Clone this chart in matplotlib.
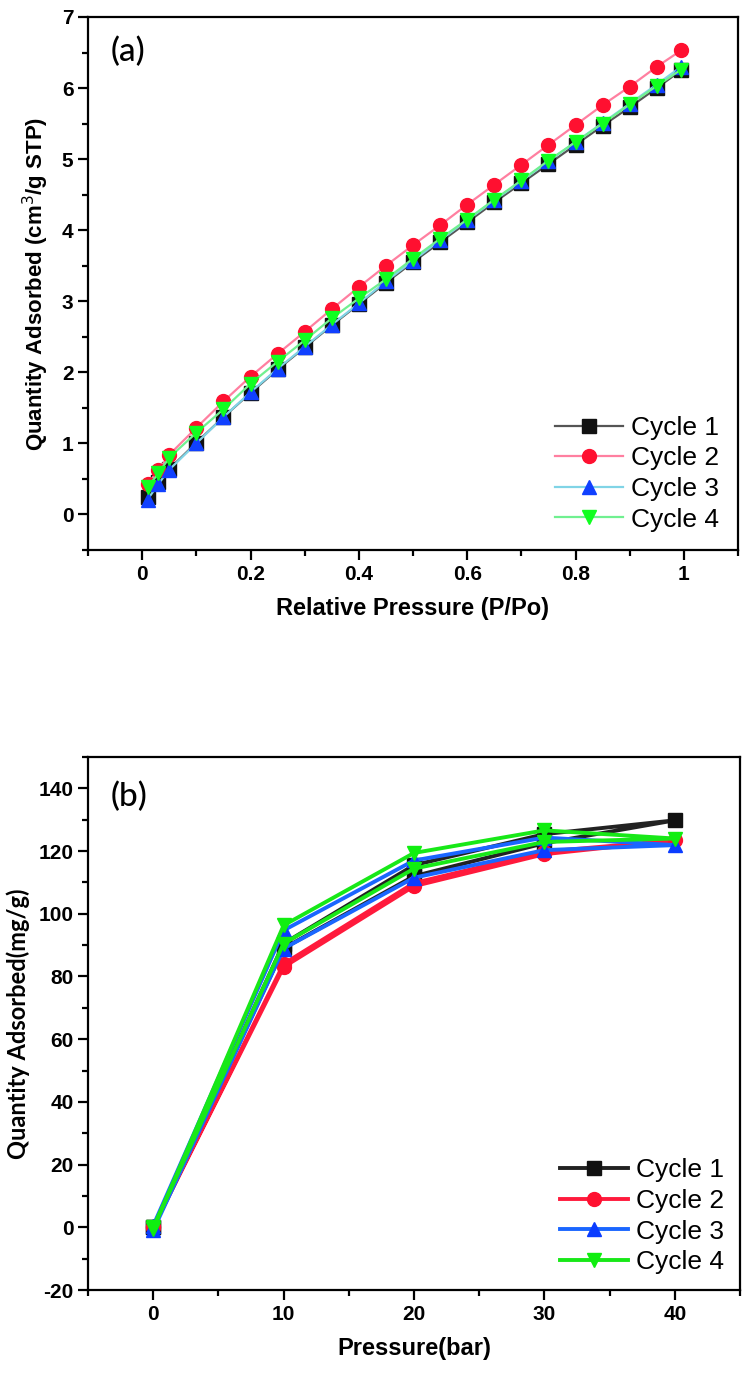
import numpy as np
import matplotlib
matplotlib.use("Agg")
import matplotlib.pyplot as plt
from matplotlib.ticker import MultipleLocator

plt.rcParams['font.family'] = ['Liberation Sans', 'DejaVu Sans']
plt.rcParams['axes.unicode_minus'] = False

# (a) relative pressure isotherms
rel_p = [0.01, 0.03, 0.05, 0.1, 0.15, 0.2, 0.25, 0.3, 0.35, 0.4, 0.45,
         0.5, 0.55, 0.6, 0.65, 0.7, 0.75, 0.8, 0.85, 0.9, 0.95, 0.995]
a_cycle1 = [0.24, 0.45, 0.64, 1.01, 1.37, 1.71, 2.04, 2.35, 2.66, 2.96, 3.26,
            3.55, 3.83, 4.11, 4.39, 4.66, 4.93, 5.20, 5.47, 5.73, 6.00, 6.25]
a_cycle2 = [0.43, 0.62, 0.84, 1.22, 1.59, 1.94, 2.26, 2.57, 2.89, 3.20, 3.50,
            3.79, 4.07, 4.36, 4.64, 4.92, 5.20, 5.48, 5.76, 6.02, 6.30, 6.53]
a_cycle3 = [0.21, 0.43, 0.63, 1.00, 1.37, 1.72, 2.05, 2.36, 2.67, 2.97, 3.28,
            3.57, 3.86, 4.14, 4.42, 4.69, 4.97, 5.24, 5.51, 5.78, 6.05, 6.30]
a_cycle4 = [0.38, 0.58, 0.80, 1.15, 1.48, 1.84, 2.15, 2.45, 2.76, 3.04, 3.31,
            3.60, 3.88, 4.15, 4.43, 4.70, 4.98, 5.24, 5.50, 5.77, 6.03, 6.26]

# (b) high pressure, adsorption then desorption
pressure = [0, 10, 20, 30, 40, 30, 20, 10, 0]
b_cycle1 = [0, 89, 112, 122.5, 129.8, 125.4, 115.5, 90.5, 0]
b_cycle2 = [0, 83, 108.8, 119, 123.4, 119.8, 109.8, 84, 0]
b_cycle3 = [-1, 88.9, 111.5, 120.3, 121.9, 124.3, 117, 94.7, 0.5]
b_cycle4 = [0, 90.5, 114.4, 122.9, 124, 126.6, 119.4, 96.3, -0.5]

labels = ['Cycle 1', 'Cycle 2', 'Cycle 3', 'Cycle 4']
markers = ['s', 'o', '^', 'v']

fig = plt.figure(figsize=(7.46, 13.78), dpi=100)
ax1 = fig.add_axes([88/746, 1-550/1378, 650/746, 533/1378])
ax2 = fig.add_axes([88/746, 1-1290/1378, 652/746, 533/1378])

# top panel: light lines, saturated markers
line_cols_a = ['#555555', '#ff7fa0', '#80d4e6', '#70f090']
mark_cols_a = ['#111111', '#ff1030', '#1040ff', '#10ff20']
for y, lab, m, lc, mc in zip([a_cycle1, a_cycle2, a_cycle3, a_cycle4], labels, markers,
                             line_cols_a, mark_cols_a):
    ax1.plot(rel_p, y, color=lc, lw=1.6, marker=m, ms=10, mfc=mc, mec=mc, label=lab)

ax1.set_xlim(-0.1, 1.1)
ax1.set_ylim(-0.5, 7)
ax1.set_xticks([0, 0.2, 0.4, 0.6, 0.8, 1.0])
ax1.set_xticklabels(['0', '0.2', '0.4', '0.6', '0.8', '1'])
ax1.xaxis.set_minor_locator(MultipleLocator(0.1))
ax1.yaxis.set_major_locator(MultipleLocator(1))
ax1.yaxis.set_minor_locator(MultipleLocator(0.5))
ax1.set_xlabel('Relative Pressure (P/Po)', fontsize=17, fontweight='bold', labelpad=10)
ax1.set_ylabel('Quantity Adsorbed (cm$^3$/g STP)', fontsize=16, fontweight='bold', labelpad=8)
ax1.text(0.035, 0.935, '(a)', transform=ax1.transAxes, fontsize=24,
         family=['Lato', 'DejaVu Sans'], fontweight='medium', va='center')
ax1.legend(loc='lower right', frameon=False, fontsize=19, handlelength=2.6,
           labelspacing=0.25, handletextpad=0.3, borderaxespad=0.3)

# bottom panel: thick lines
cols_b = ['#222222', '#ff1a3c', '#1a66ff', '#18e818']
mcols_b = ['#111111', '#ff1030', '#0a3cff', '#10ee10']
for y, lab, m, c, mc in zip([b_cycle1, b_cycle2, b_cycle3, b_cycle4], labels, markers,
                            cols_b, mcols_b):
    ax2.plot(pressure, y, color=c, lw=2.8, marker=m, ms=10, mfc=mc, mec=mc, label=lab)

ax2.set_xlim(-5, 45)
ax2.set_ylim(-20, 150)
ax2.xaxis.set_major_locator(MultipleLocator(10))
ax2.xaxis.set_minor_locator(MultipleLocator(5))
ax2.yaxis.set_minor_locator(MultipleLocator(10))
ax2.set_yticks(range(-20, 141, 20))
ax2.set_xlabel('Pressure(bar)', fontsize=17, fontweight='bold', labelpad=10)
ax2.set_ylabel('Quantity Adsorbed(mg/g)', fontsize=17, fontweight='bold', labelpad=6,
               family=['Lato', 'DejaVu Sans'])
ax2.text(0.035, 0.925, '(b)', transform=ax2.transAxes, fontsize=24,
         family=['Lato', 'DejaVu Sans'], fontweight='medium', va='center')
ax2.legend(loc='lower right', frameon=False, fontsize=19, handlelength=2.6,
           labelspacing=0.25, handletextpad=0.3, borderaxespad=0.2)

for ax in (ax1, ax2):
    for s in ax.spines.values():
        s.set_linewidth(1.6)
    ax.tick_params(which='major', direction='out', length=7, width=1.6, labelsize=15)
    ax.tick_params(which='minor', direction='out', length=4, width=1.6)
    for t in ax.get_xticklabels() + ax.get_yticklabels():
        t.set_fontweight('bold')

fig.savefig('out.png', dpi=100)
